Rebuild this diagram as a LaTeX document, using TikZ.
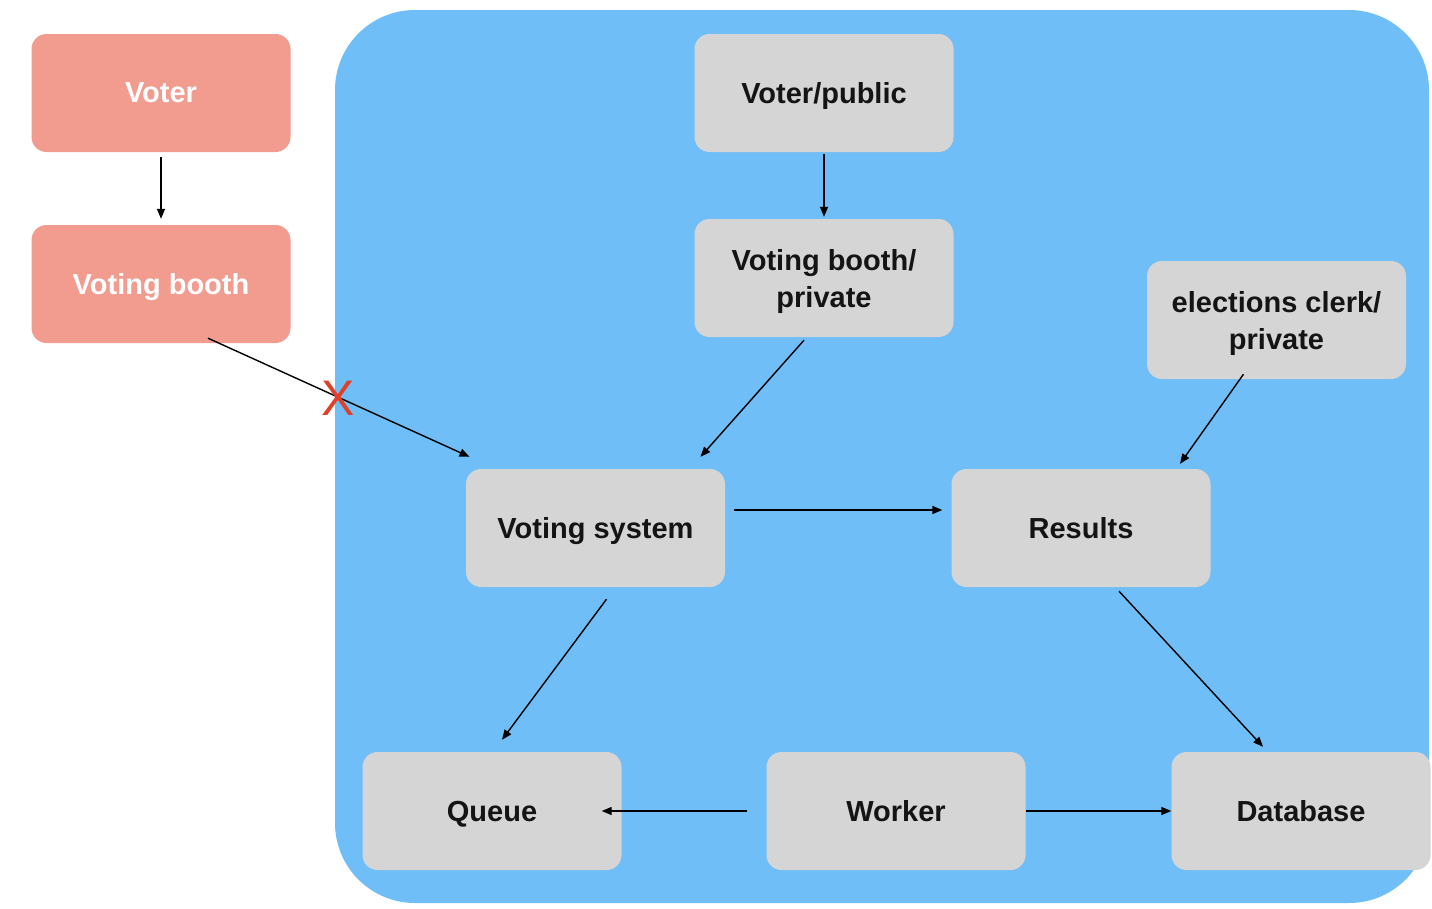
\documentclass[tikz,border=0pt]{standalone}
\usepackage{fontspec}
\setmainfont{Liberation Sans}
\usetikzlibrary{arrows.meta}
\definecolor{bluebg}{HTML}{6FBEF8}
\definecolor{salmon}{HTML}{F29B8F}
\definecolor{greybox}{HTML}{D5D5D5}
\definecolor{redx}{HTML}{E0402A}
\tikzset{
  box/.style={rounded corners=15pt, minimum width=259pt, minimum height=118pt, inner sep=0pt, align=center,
    text depth=0pt, font=\fontsize{29}{37}\selectfont\bfseries},
  greyb/.style={box, fill=greybox, text=black!92},
  salb/.style={box, fill=salmon, text=white},
  conn/.style={line width=1.4pt, -{Triangle[length=10pt,width=8pt]}}
}
\begin{document}
\begin{tikzpicture}[x=1pt,y=-1pt]
\useasboundingbox (0,0) rectangle (1432,908);
\fill[bluebg, rounded corners=80pt] (335,10) rectangle (1429,903);
\node[salb] (voter) at (161,93) {Voter};
\node[salb] (booth) at (161,284) {Voting booth};
\node[greyb] (vp) at (824,93) {Voter/public};
\node[greyb] (vbp) at (824,278) {Voting booth/\\private};
\node[greyb] (clerk) at (1276.5,320) {elections clerk/\\private};
\node[greyb] (vs) at (595.5,528) {Voting system};
\node[greyb] (res) at (1081,528) {Results};
\node[greyb] (queue) at (492,811) {Queue};
\node[greyb] (worker) at (896,811) {Worker};
\node[greyb] (db) at (1301,811) {Database};
\draw[conn] ([yshift=-5pt]voter.south) -- ([yshift=6pt]booth.north);
\draw[conn] ([yshift=-2pt]vp.south) -- ([yshift=2pt]vbp.north);
\draw[conn] ([xshift=-20pt,yshift=-3pt]vbp.south) -- ([xshift=105pt,yshift=12pt]vs.north);
\draw[conn] ([xshift=-33pt,yshift=5pt]clerk.south) -- ([xshift=99pt,yshift=5pt]res.north);
\draw[conn] ([xshift=47pt,yshift=5pt]booth.south) -- ([xshift=-126pt,yshift=12pt]vs.north);
\draw[conn] ([xshift=9pt,yshift=18pt]vs.east) -- ([xshift=-9pt,yshift=18pt]res.west);
\draw[conn] ([xshift=11pt,yshift=-12pt]vs.south) -- ([xshift=10pt,yshift=12pt]queue.north);
\draw[conn] ([xshift=38pt,yshift=-4pt]res.south) -- ([xshift=-38pt,yshift=5pt]db.north);
\draw[conn] ([xshift=-19pt]worker.west) -- ([xshift=-20pt]queue.east);
\draw[conn] (worker.east) -- (db.west);
\node[text=redx, font=\fontsize{50}{50}\selectfont, inner sep=0pt] (x) at (338,398) {X};
\end{tikzpicture}
\end{document}
